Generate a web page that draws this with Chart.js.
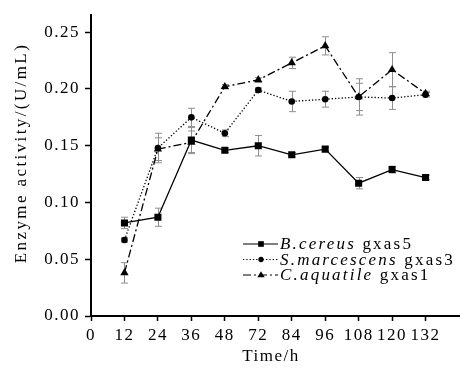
<!DOCTYPE html>
<html>
<head>
<meta charset="utf-8">
<script src="https://cdn.jsdelivr.net/npm/chart.js@4.4.1/dist/chart.umd.min.js"></script>
<style>
  html, body { margin: 0; padding: 0; background: #fff; }
  #wrap { width: 464px; height: 368px; }
</style>
</head>
<body>
<div id="wrap"><canvas id="chart" width="464" height="368"></canvas></div>
<script>
// x axis categories (evenly spaced, note 60 h is skipped)
const timeLabels = ['0', '12', '24', '36', '48', '72', '84', '96', '108', '120', '132'];
const sampleTimes = ['12', '24', '36', '48', '72', '84', '96', '108', '120', '132'];

const cereus        = [0.082, 0.087, 0.155, 0.146, 0.150, 0.142, 0.147, 0.117, 0.129, 0.122];
const cereusErr     = [0.005, 0.008, 0.011, 0.002, 0.009, 0.002, 0.002, 0.005, 0.003, 0.002];
const marcescens    = [0.067, 0.148, 0.175, 0.161, 0.199, 0.189, 0.191, 0.193, 0.192, 0.195];
const marcescensErr = [0.002, 0.013, 0.008, 0.003, 0.002, 0.009, 0.007, 0.016, 0.010, 0.002];
const aquatile      = [0.038, 0.147, 0.153, 0.202, 0.208, 0.223, 0.238, 0.193, 0.217, 0.196];
const aquatileErr   = [0.009, 0.010, 0.010, 0.002, 0.002, 0.005, 0.008, 0.012, 0.015, 0.002];

const seriesNames = [['B.cereus', ' gxas5'], ['S.marcescens', ' gxas3'], ['C.aquatile', ' gxas1']];
const yTicks = [0, 0.05, 0.10, 0.15, 0.20, 0.25];

const FONT = "'Liberation Serif', 'Times New Roman', serif";

function toPoints(values) {
  return sampleTimes.map((t, i) => ({ x: timeLabels.indexOf(t), y: values[i] }));
}

function drawMarker(ctx, style, x, y, r) {
  ctx.beginPath();
  if (style === 'rect') {
    const s = r * Math.SQRT1_2;
    ctx.rect(x - s, y - s, 2 * s, 2 * s);
  } else if (style === 'circle') {
    ctx.arc(x, y, r, 0, Math.PI * 2);
  } else {
    ctx.moveTo(x, y - r);
    ctx.lineTo(x + r * 0.95, y + r * 0.6);
    ctx.lineTo(x - r * 0.95, y + r * 0.6);
    ctx.closePath();
  }
  ctx.fill();
}

const extras = {
  id: 'extras',
  beforeDraw(chart) {
    chart.ctx.letterSpacing = '1.5px';
  },
  beforeDatasetsDraw(chart) {
    const ctx = chart.ctx;
    const xs = chart.scales.x, ys = chart.scales.y;
    ctx.save();
    ctx.strokeStyle = '#8f8f8f';
    ctx.lineWidth = 1;
    chart.data.datasets.forEach(ds => {
      ds.data.forEach((p, i) => {
        const e = ds.errors[i];
        const x = Math.round(xs.getPixelForValue(p.x)) + 0.5;
        const y1 = ys.getPixelForValue(p.y + e);
        const y2 = ys.getPixelForValue(p.y - e);
        ctx.beginPath();
        ctx.moveTo(x, y1); ctx.lineTo(x, y2);
        ctx.moveTo(x - 3.5, y1); ctx.lineTo(x + 3.5, y1);
        ctx.moveTo(x - 3.5, y2); ctx.lineTo(x + 3.5, y2);
        ctx.stroke();
      });
    });
    ctx.restore();
  },
  afterDraw(chart) {
    const ctx = chart.ctx;
    ctx.save();
    ctx.fillStyle = '#000';
    ctx.strokeStyle = '#000';
    ctx.letterSpacing = '1.5px';
    ctx.font = '17px ' + FONT;
    ctx.textAlign = 'center';
    ctx.textBaseline = 'middle';
    ctx.fillText('Time/h', 271, 357);
    ctx.save();
    ctx.letterSpacing = '2.4px';
    ctx.translate(22, 153);
    ctx.rotate(-Math.PI / 2);
    ctx.fillText('Enzyme activity/(U/mL)', 0, 0);
    ctx.restore();

    // legend
    ctx.textAlign = 'left';
    ctx.letterSpacing = '2.2px';
    chart.data.datasets.forEach((ds, i) => {
      const y = 244 + i * 15.5;
      ctx.lineWidth = 1.2;
      ctx.setLineDash(ds.borderDash || []);
      ctx.beginPath();
      ctx.moveTo(243, y); ctx.lineTo(278, y);
      ctx.stroke();
      ctx.setLineDash([]);
      drawMarker(ctx, ds.pointStyle, 261, y, ds.pointRadius * 0.8);
      ctx.font = 'italic 17px ' + FONT;
      ctx.fillText(seriesNames[i][0], 280, y + 1);
      const w = ctx.measureText(seriesNames[i][0]).width;
      ctx.font = '17px ' + FONT;
      ctx.fillText(seriesNames[i][1], 280 + w, y + 1);
    });
    ctx.restore();
  }
};

const common = {
  borderColor: '#000',
  backgroundColor: '#000',
  pointBackgroundColor: '#000',
  pointBorderColor: '#000',
  borderWidth: 1.3,
  pointBorderWidth: 0,
  tension: 0,
  fill: false
};

new Chart(document.getElementById('chart'), {
  type: 'line',
  data: {
    datasets: [
      Object.assign({ label: 'B.cereus gxas5', data: toPoints(cereus), errors: cereusErr,
        pointStyle: 'rect', pointRadius: 5, borderDash: [] }, common),
      Object.assign({ label: 'S.marcescens gxas3', data: toPoints(marcescens), errors: marcescensErr,
        pointStyle: 'circle', pointRadius: 3.3, borderDash: [1.3, 2] }, common),
      Object.assign({ label: 'C.aquatile gxas1', data: toPoints(aquatile), errors: aquatileErr,
        pointStyle: 'triangle', pointRadius: 4.8, borderDash: [8, 3, 2, 3] }, common)
    ]
  },
  options: {
    responsive: false,
    devicePixelRatio: 1,
    animation: false,
    layout: { padding: { top: 4, right: 0, left: 0, bottom: 0 } },
    plugins: { legend: { display: false }, tooltip: { enabled: false } },
    scales: {
      x: {
        type: 'linear',
        min: 0,
        max: timeLabels.length,
        afterFit(s) { s.height = 52; },
        afterBuildTicks(s) { s.ticks = timeLabels.map((_, i) => ({ value: i })); },
        ticks: {
          autoSkip: false,
          maxRotation: 0,
          padding: 4,
          color: '#000',
          font: { family: FONT, size: 17 },
          callback: v => timeLabels[v]
        },
        grid: { drawOnChartArea: false, tickLength: 5, tickColor: '#000', tickWidth: 1.5 },
        border: { color: '#000', width: 2 }
      },
      y: {
        min: 0,
        max: 0.265,
        afterFit(s) { s.width = 91; },
        afterBuildTicks(s) { s.ticks = yTicks.map(v => ({ value: v })); },
        ticks: {
          padding: 5,
          color: '#000',
          font: { family: FONT, size: 17 },
          callback: v => v.toFixed(2)
        },
        grid: { drawOnChartArea: false, tickLength: 6, tickColor: '#000', tickWidth: 1.5 },
        border: { color: '#000', width: 2 }
      }
    }
  },
  plugins: [extras]
});
</script>
</body>
</html>
